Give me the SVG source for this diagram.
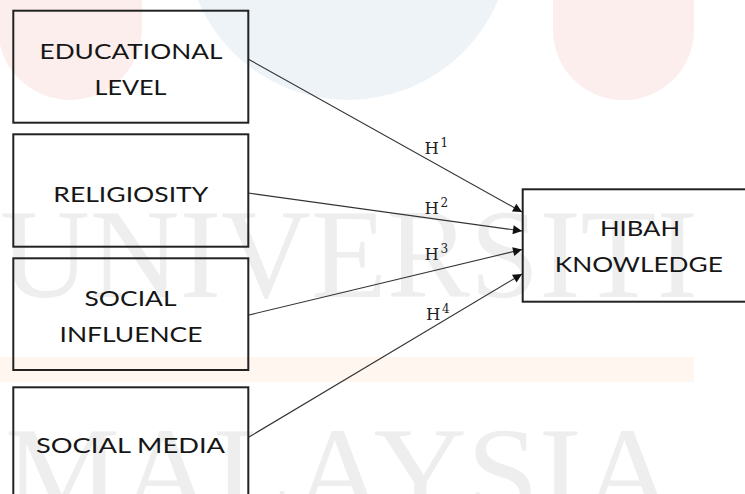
<svg xmlns="http://www.w3.org/2000/svg" width="745" height="494" viewBox="0 0 745 494">
  <style>
    .box { fill: none; stroke: #222; stroke-width: 2; }
    .lbl { font-family: Lato, "Open Sans", "Liberation Sans", sans-serif; font-size: 22px; fill: #161616; text-anchor: middle; }
    .conn { stroke: #333; stroke-width: 1.1; fill: none; marker-end: url(#arr); }
    .h { font-family: "DejaVu Serif", "Liberation Serif", serif; font-size: 16.5px; fill: #222; }
    .sup { font-size: 12px; }
    .wm { font-family: "Liberation Serif", serif; font-size: 128px; fill: #eeeeee; }
  </style>
  <defs>
    <marker id="arr" viewBox="0 0 10 10" refX="10" refY="5" markerWidth="11" markerHeight="9" markerUnits="userSpaceOnUse" orient="auto">
      <path d="M0,0 L10,5 L0,10 Z" fill="#111"/>
    </marker>
  </defs>
  <rect width="745" height="494" fill="#ffffff"/>
  <g id="watermark">
    <rect x="-2" y="-100" width="144" height="200" rx="72" fill="#fdeeee"/>
    <circle cx="348" cy="-63" r="163" fill="#eef3f8"/>
    <rect x="553" y="-100" width="141" height="200" rx="70" fill="#fdeeee"/>
    <rect x="0" y="357" width="694" height="25" fill="#fff6ef"/>
    <text class="wm" x="0" y="297" textLength="698" lengthAdjust="spacingAndGlyphs">UNIVERSITI</text>
    <text class="wm" x="5" y="515" textLength="670" lengthAdjust="spacingAndGlyphs">MALAYSIA</text>
  </g>
  <g id="connectors">
    <line class="conn" x1="248" y1="59" x2="522" y2="212"/>
    <line class="conn" x1="248" y1="193" x2="522" y2="231"/>
    <line class="conn" x1="249" y1="315" x2="522" y2="249.5"/>
    <line class="conn" x1="249" y1="437" x2="522" y2="274"/>
    <text class="h" x="424.5" y="153.5">H<tspan class="sup" dx="1.5" dy="-7">1</tspan></text>
    <text class="h" x="424.5" y="213.5">H<tspan class="sup" dx="1.5" dy="-7">2</tspan></text>
    <text class="h" x="424.5" y="260">H<tspan class="sup" dx="1.5" dy="-7">3</tspan></text>
    <text class="h" x="426" y="320">H<tspan class="sup" dx="1.5" dy="-7">4</tspan></text>
  </g>
  <g id="educational-level">
    <rect class="box" x="13.3" y="10.7" width="235" height="112"/>
    <text class="lbl" x="131" y="58.5" textLength="183" lengthAdjust="spacingAndGlyphs">EDUCATIONAL</text>
    <text class="lbl" x="130.5" y="95" textLength="72" lengthAdjust="spacingAndGlyphs">LEVEL</text>
  </g>
  <g id="religiosity">
    <rect class="box" x="13.3" y="134.3" width="235" height="112.4"/>
    <text class="lbl" x="130.8" y="201.7" textLength="155" lengthAdjust="spacingAndGlyphs">RELIGIOSITY</text>
  </g>
  <g id="social-influence">
    <rect class="box" x="13.3" y="258.3" width="235" height="111.7"/>
    <text class="lbl" x="130.5" y="306" textLength="92" lengthAdjust="spacingAndGlyphs">SOCIAL</text>
    <text class="lbl" x="131" y="341.7" textLength="143" lengthAdjust="spacingAndGlyphs">INFLUENCE</text>
  </g>
  <g id="social-media">
    <rect class="box" x="13.3" y="387.3" width="235" height="120"/>
    <text class="lbl" x="130.5" y="453.3" textLength="189" lengthAdjust="spacingAndGlyphs">SOCIAL MEDIA</text>
  </g>
  <g id="hibah-knowledge">
    <rect class="box" x="522.7" y="189.3" width="240" height="112.4"/>
    <text class="lbl" x="640" y="235.7" textLength="80" lengthAdjust="spacingAndGlyphs">HIBAH</text>
    <text class="lbl" x="638.8" y="271.7" textLength="168" lengthAdjust="spacingAndGlyphs">KNOWLEDGE</text>
  </g>
</svg>
